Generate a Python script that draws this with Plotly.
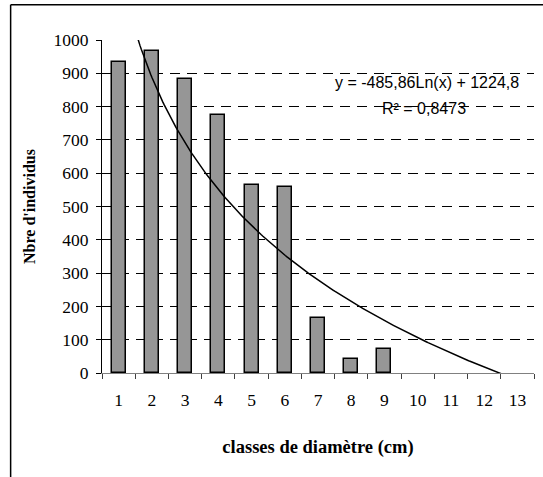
import numpy as np
import plotly.graph_objects as go

# ---- data ----
classes = [1, 2, 3, 4, 5, 6, 7, 8, 9]
individus = [933, 968, 882, 774, 565, 560, 165, 42, 72]
x_tick_labels = ["1", "2", "3", "4", "5", "6", "7", "8", "9", "10", "11", "12", "13"]
y_tick_vals = [0, 100, 200, 300, 400, 500, 600, 700, 800, 900, 1000]
trend_slope = -485.86
trend_intercept = 1224.8
trend_label = "y = -485,86Ln(x) + 1224,8"
r2_label = "R² = 0,8473"

x_ticks = list(range(1, len(x_tick_labels) + 1))
trend_x = np.linspace(1, len(x_tick_labels), 300)
trend_y = trend_slope * np.log(trend_x) + trend_intercept

serif = "Liberation Serif"
sans = "Liberation Sans"

fig = go.Figure()
fig.add_trace(go.Bar(
    x=classes, y=individus, width=0.42,
    marker=dict(color="#969696", line=dict(color="black", width=1.5)),
    showlegend=False, hoverinfo="skip",
))
fig.add_trace(go.Scatter(
    x=trend_x, y=trend_y, mode="lines",
    line=dict(color="black", width=1.5),
    showlegend=False, hoverinfo="skip",
))

fig.update_layout(
    width=543, height=477,
    margin=dict(l=102, r=9, t=40, b=104),
    paper_bgcolor="white", plot_bgcolor="white",
    font=dict(family=serif, size=16, color="black"),
    bargap=0,
    xaxis=dict(
        range=[0.5, 13.5], tickmode="array", tickvals=x_ticks, ticktext=x_tick_labels,
        ticks="", showgrid=False, zeroline=False,
        showline=True, linecolor="#808080", linewidth=1,
        ticklabelstandoff=11,
        tickfont=dict(family=serif, size=17.5, color="black"),
        minor=dict(tickmode="array", tickvals=[v + 0.5 for v in range(0, 14)],
                   ticks="outside", ticklen=5, tickcolor="#404040", tickwidth=1, showgrid=False),
        title=dict(text="<b>classes de diamètre (cm)</b>", font=dict(family=serif, size=18.5), standoff=31),
        fixedrange=True,
    ),
    yaxis=dict(
        range=[0, 1000], tickmode="array", tickvals=y_tick_vals,
        ticks="outside", ticklen=5, tickcolor="black", tickwidth=1,
        showgrid=True, gridcolor="black", gridwidth=1, griddash="10px,7px",
        zeroline=False, showline=True, linecolor="black", linewidth=1,
        tickfont=dict(family=serif, size=17.5, color="black"),
        ticklabelstandoff=4,
        title=dict(text="<b>Nbre d'individus</b>", font=dict(family=serif, size=16), standoff=13),
        fixedrange=True,
    ),
    annotations=[
        dict(x=10.28, y=872, xref="x", yref="y", text=trend_label, showarrow=False,
             font=dict(family=sans, size=16, color="black"), xanchor="center", yanchor="middle"),
        dict(x=10.18, y=794, xref="x", yref="y", text=r2_label, showarrow=False,
             font=dict(family=sans, size=16, color="black"), xanchor="center", yanchor="middle"),
    ],
    shapes=[
        dict(type="line", xref="paper", yref="paper", x0=-0.2115, x1=1.1, y0=1.106, y1=1.106,
             line=dict(color="black", width=1.5)),
        dict(type="line", xref="paper", yref="paper", x0=-0.2115, x1=-0.2115, y0=1.106, y1=-0.4,
             line=dict(color="black", width=1.5)),
    ],
)

fig.write_html("out.html")
